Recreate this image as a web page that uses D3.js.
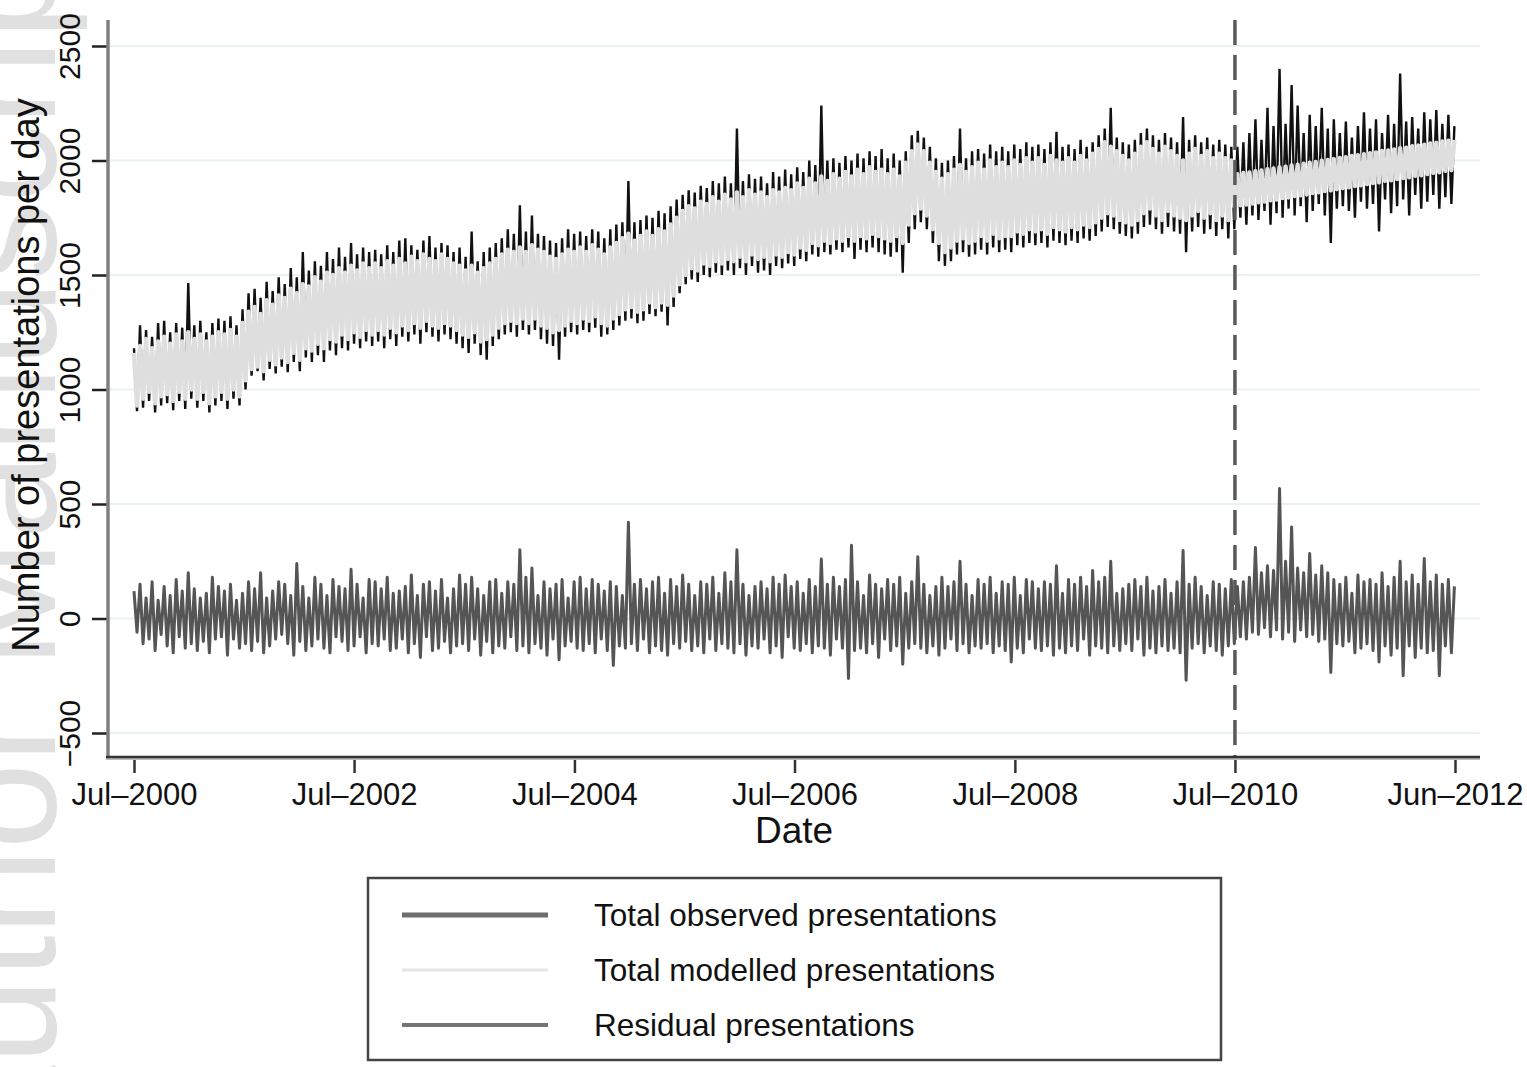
<!DOCTYPE html>
<html>
<head>
<meta charset="utf-8">
<script src="https://cdn.jsdelivr.net/npm/d3@7"></script>
<style>
  body { margin: 0; background: #fff; }
  svg text { font-family: "Liberation Sans", Arial, Helvetica, sans-serif; }
</style>
</head>
<body>
<div id="chart"></div>
<script>
// one reading every 10 days from Jul 2000, alternately the high and the low of the daily swing
var startDate = new Date(2000, 6, 1), stepDays = 10;

var observed = [
  1180, 905, 1280, 920, 1260, 950, 1230, 900, 1290, 930,
  1300, 940, 1250, 910, 1290, 950, 1270, 915, 1465, 960,
  1280, 920, 1300, 950, 1250, 900, 1290, 930, 1310, 950,
  1300, 915, 1320, 960, 1280, 930, 1350, 1000, 1420, 1060,
  1440, 1080, 1400, 1040, 1470, 1090, 1430, 1070, 1490, 1100,
  1460, 1075, 1530, 1120, 1490, 1080, 1600, 1140, 1520, 1120,
  1560, 1150, 1540, 1120, 1600, 1170, 1570, 1150, 1620, 1180,
  1580, 1170, 1640, 1200, 1590, 1180, 1620, 1210, 1600, 1190,
  1610, 1210, 1590, 1180, 1630, 1220, 1600, 1190, 1650, 1230,
  1660, 1210, 1630, 1240, 1610, 1200, 1650, 1250, 1670, 1230,
  1620, 1210, 1640, 1240, 1630, 1220, 1600, 1200, 1620, 1180,
  1580, 1160, 1690, 1200, 1560, 1150, 1600, 1130, 1620, 1190,
  1640, 1220, 1660, 1240, 1700, 1250, 1680, 1230, 1805, 1260,
  1690, 1240, 1760, 1260, 1680, 1220, 1670, 1200, 1650, 1190,
  1640, 1130, 1660, 1230, 1700, 1250, 1680, 1240, 1690, 1260,
  1670, 1250, 1700, 1270, 1690, 1230, 1660, 1240, 1700, 1260,
  1720, 1280, 1730, 1300, 1910, 1310, 1730, 1290, 1740, 1300,
  1760, 1330, 1750, 1320, 1780, 1340, 1770, 1280, 1800, 1360,
  1830, 1420, 1850, 1460, 1870, 1480, 1860, 1470, 1890, 1500,
  1880, 1490, 1910, 1510, 1900, 1500, 1930, 1520, 1900, 1500,
  2140, 1530, 1910, 1500, 1940, 1540, 1920, 1510, 1930, 1520,
  1900, 1500, 1950, 1540, 1930, 1530, 1960, 1550, 1940, 1540,
  1970, 1570, 1950, 1560, 2000, 1590, 1980, 1580, 2240, 1600,
  2000, 1590, 2010, 1610, 1990, 1600, 2020, 1620, 2000, 1570,
  2030, 1610, 2010, 1600, 2040, 1620, 2020, 1600, 2050, 1590,
  2010, 1580, 2030, 1600, 2000, 1510, 2040, 1640, 2110, 1700,
  2130, 1730, 2100, 1700, 2060, 1640, 2010, 1560, 1990, 1540,
  2000, 1560, 2020, 1590, 2140, 1600, 2010, 1580, 2040, 1590,
  2050, 1610, 2030, 1590, 2070, 1620, 2040, 1600, 2060, 1610,
  2040, 1600, 2070, 1630, 2050, 1620, 2080, 1640, 2060, 1630,
  2070, 1640, 2050, 1620, 2080, 1650, 2125, 1640, 2060, 1630,
  2070, 1650, 2050, 1640, 2090, 1660, 2060, 1650, 2080, 1670,
  2110, 1690, 2140, 1710, 2230, 1700, 2100, 1680, 2080, 1670,
  2070, 1660, 2090, 1680, 2120, 1710, 2140, 1720, 2110, 1700,
  2090, 1680, 2120, 1710, 2100, 1690, 2080, 1680, 2190, 1600,
  2090, 1690, 2110, 1710, 2080, 1680, 2100, 1700, 2070, 1670,
  2090, 1700, 2070, 1660, 2060, 1700, 2060, 1750, 2080, 1720,
  2120, 1760, 2180, 1740, 2090, 1780, 2230, 1720, 2150, 1770,
  2400, 1750, 2160, 1790, 2330, 1760, 2240, 1800, 2120, 1730,
  2200, 1780, 2150, 1810, 2230, 1760, 2140, 1640, 2180, 1790,
  2120, 1800, 2170, 1780, 2100, 1750, 2150, 1820, 2210, 1790,
  2140, 1810, 2180, 1690, 2120, 1830, 2200, 1770, 2160, 1800,
  2380, 1830, 2170, 1760, 2190, 1850, 2140, 1790, 2210, 1820,
  2180, 1850, 2220, 1790, 2160, 1840, 2200, 1810, 2150
];

var modelled = [
  1160, 930, 1190, 960, 1220, 990, 1180, 940, 1210, 970,
  1230, 980, 1200, 950, 1240, 990, 1210, 960, 1250, 1000,
  1220, 960, 1240, 990, 1210, 940, 1230, 970, 1250, 990,
  1240, 960, 1260, 1000, 1230, 970, 1290, 1040, 1340, 1090,
  1360, 1100, 1330, 1080, 1390, 1130, 1370, 1110, 1410, 1140,
  1400, 1120, 1440, 1160, 1420, 1130, 1460, 1180, 1450, 1170,
  1490, 1200, 1470, 1180, 1510, 1220, 1500, 1210, 1530, 1240,
  1510, 1220, 1540, 1250, 1520, 1230, 1550, 1260, 1530, 1240,
  1550, 1260, 1530, 1240, 1560, 1270, 1540, 1250, 1570, 1280,
  1550, 1260, 1580, 1290, 1560, 1270, 1590, 1300, 1570, 1280,
  1560, 1270, 1590, 1290, 1570, 1280, 1550, 1260, 1540, 1240,
  1520, 1230, 1540, 1250, 1510, 1210, 1530, 1220, 1550, 1240,
  1570, 1270, 1590, 1290, 1610, 1300, 1600, 1290, 1620, 1310,
  1600, 1290, 1630, 1310, 1610, 1280, 1600, 1270, 1580, 1250,
  1570, 1260, 1590, 1280, 1610, 1300, 1600, 1290, 1620, 1310,
  1600, 1300, 1630, 1320, 1610, 1290, 1590, 1280, 1620, 1310,
  1640, 1330, 1660, 1350, 1680, 1360, 1650, 1340, 1670, 1350,
  1690, 1380, 1670, 1360, 1700, 1380, 1690, 1370, 1720, 1410,
  1750, 1460, 1780, 1500, 1800, 1530, 1790, 1520, 1820, 1550,
  1810, 1540, 1840, 1560, 1820, 1550, 1850, 1570, 1830, 1560,
  1860, 1580, 1840, 1560, 1870, 1590, 1850, 1570, 1860, 1580,
  1840, 1560, 1870, 1590, 1860, 1580, 1880, 1600, 1870, 1590,
  1900, 1620, 1880, 1610, 1920, 1640, 1900, 1630, 1930, 1650,
  1910, 1640, 1940, 1660, 1920, 1650, 1950, 1670, 1930, 1650,
  1960, 1670, 1940, 1660, 1970, 1680, 1950, 1670, 1960, 1660,
  1940, 1650, 1960, 1670, 1930, 1640, 1990, 1720, 2040, 1770,
  2070, 1790, 2040, 1760, 1990, 1700, 1950, 1640, 1920, 1600,
  1940, 1620, 1960, 1650, 1980, 1660, 1950, 1640, 1970, 1650,
  1990, 1670, 1960, 1650, 2000, 1680, 1970, 1660, 1990, 1670,
  1970, 1670, 2000, 1690, 1980, 1680, 2010, 1700, 1990, 1690,
  2010, 1700, 1980, 1680, 2020, 1710, 2000, 1700, 1990, 1690,
  2010, 1710, 1990, 1700, 2020, 1720, 2000, 1710, 2030, 1730,
  2050, 1750, 2080, 1770, 2060, 1760, 2040, 1740, 2020, 1730,
  2000, 1720, 2030, 1740, 2060, 1770, 2080, 1790, 2050, 1760,
  2030, 1740, 2060, 1780, 2040, 1760, 2020, 1750, 2000, 1740,
  2030, 1760, 2050, 1780, 2020, 1750, 2040, 1770, 2010, 1740,
  2030, 1760, 2010, 1740, 2000, 1800, 1940, 1805, 1945, 1808,
  1948, 1812, 1953, 1818, 1956, 1821, 1962, 1826, 1965, 1830,
  1970, 1836, 1973, 1839, 1978, 1845, 1981, 1848, 1986, 1852,
  1990, 1858, 1993, 1861, 1999, 1867, 2002, 1870, 2006, 1875,
  2011, 1880, 2014, 1883, 2020, 1889, 2023, 1892, 2027, 1897,
  2032, 1902, 2035, 1905, 2041, 1911, 2044, 1914, 2048, 1919,
  2053, 1924, 2056, 1927, 2062, 1933, 2065, 1936, 2069, 1941,
  2074, 1946, 2077, 1949, 2083, 1955, 2086, 1958, 2090
];

var residual = [
  120, -60, 150, -110, 90, -90, 160, -140, 80, -70,
  140, -120, 100, -150, 170, -80, 120, -130, 200, -110,
  130, -140, 90, -100, 110, -150, 180, -90, 140, -80,
  120, -160, 150, -90, 80, -130, 110, -110, 160, -140,
  130, -100, 200, -150, 90, -120, 120, -90, 160, -70,
  150, -110, 100, -160, 240, -100, 140, -140, 90, -120,
  180, -90, 150, -130, 100, -150, 170, -80, 140, -100,
  130, -140, 215, -120, 150, -80, 90, -150, 170, -110,
  160, -120, 130, -90, 180, -140, 110, -130, 120, -90,
  140, -150, 190, -110, 100, -170, 150, -80, 160, -140,
  120, -130, 170, -100, 90, -150, 130, -120, 190, -110,
  150, -140, 180, -90, 130, -160, 100, -100, 160, -150,
  170, -120, 110, -130, 160, -80, 150, -140, 300, -120,
  180, -150, 220, -110, 100, -130, 160, -160, 130, -90,
  150, -180, 170, -120, 90, -100, 160, -130, 180, -140,
  130, -110, 170, -150, 150, -90, 120, -140, 160, -205,
  140, -120, 100, -130, 420, -110, 150, -140, 170, -90,
  130, -150, 160, -120, 180, -140, 110, -160, 170, -110,
  140, -130, 190, -100, 150, -140, 100, -120, 160, -150,
  150, -90, 180, -140, 110, -110, 200, -130, 160, -150,
  300, -110, 150, -160, 100, -120, 140, -130, 160, -90,
  130, -150, 180, -120, 150, -170, 190, -80, 140, -130,
  160, -140, 110, -110, 170, -150, 140, -120, 260, -130,
  150, -160, 180, -90, 140, -130, 170, -262, 320, -140,
  160, -130, 100, -150, 190, -110, 150, -170, 130, -90,
  170, -140, 150, -120, 180, -200, 110, -130, 160, -110,
  270, -130, 150, -150, 100, -120, 140, -160, 180, -130,
  140, -90, 160, -140, 250, -110, 150, -150, 100, -120,
  170, -130, 150, -110, 180, -150, 110, -120, 160, -140,
  150, -190, 180, -130, 100, -150, 170, -90, 160, -130,
  130, -140, 160, -120, 150, -160, 230, -130, 110, -150,
  170, -120, 150, -140, 180, -90, 140, -160, 210, -120,
  160, -130, 180, -150, 250, -120, 110, -140, 130, -110,
  150, -140, 170, -90, 140, -160, 180, -130, 120, -150,
  140, -120, 170, -140, 110, -130, 160, -150, 297, -270,
  150, -130, 180, -110, 140, -150, 100, -120, 160, -140,
  150, -160, 130, -120, 170, -110, 140, -80, 160, -90,
  180, -60, 310, -70, 200, -40, 230, -80, 210, -50,
  568, -90, 250, -60, 400, -100, 220, -50, 200, -80,
  284, -70, 190, -100, 230, -90, 200, -236, 170, -110,
  150, -120, 180, -100, 110, -150, 190, -130, 160, -110,
  170, -140, 150, -190, 200, -120, 140, -160, 180, -130,
  250, -250, 160, -120, 190, -170, 150, -130, 262, -150,
  160, -140, 190, -250, 150, -120, 170, -150, 140
];

var xTickDates = [new Date(2000, 6, 1), new Date(2002, 6, 1), new Date(2004, 6, 1),
                  new Date(2006, 6, 1), new Date(2008, 6, 1), new Date(2010, 6, 1), new Date(2012, 5, 30)];
var xTickLabels = ["Jul\u20132000", "Jul\u20132002", "Jul\u20132004", "Jul\u20132006",
                   "Jul\u20132008", "Jul\u20132010", "Jun\u20132012"];
var yTicks = [-500, 0, 500, 1000, 1500, 2000, 2500];
var forecastStart = new Date(2010, 6, 1);
var legendLabels = ["Total observed presentations", "Total modelled presentations", "Residual presentations"];

var W = 1527, H = 1067;
var plot = {left: 108, right: 1480, top: 20, bottom: 757};

var svg = d3.select("#chart")
  .append("svg")
    .attr("width", W)
    .attr("height", H);

svg.append("rect").attr("width", W).attr("height", H).attr("fill", "#fff");

// faint watermark on the left edge
svg.append("text")
  .attr("transform", "translate(55,1168) rotate(-90)")
  .attr("font-size", 155)
  .attr("fill", "#e0e0e0")
  .text("Author Manuscript");

var x = d3.scaleTime()
    .domain([new Date(2000, 6, 1), new Date(2012, 5, 30)])
    .range([134, 1455]);

var y = d3.scaleLinear()
    .domain([-500, 2500])
    .range([733, 46]);

function dateAt(i) { return d3.timeDay.offset(startDate, i * stepDays); }

// gridlines
svg.append("g")
  .selectAll("line")
  .data(yTicks)
  .enter()
  .append("line")
    .attr("x1", plot.left + 2)
    .attr("x2", plot.right)
    .attr("y1", function(d) { return y(d); })
    .attr("y2", function(d) { return y(d); })
    .attr("stroke", "#eaf1f2")
    .attr("stroke-width", 2);

var line = d3.line()
    .x(function(d, i) { return x(dateAt(i)); })
    .y(function(d) { return y(d); });

svg.append("path")
  .datum(observed)
  .attr("d", line)
  .attr("fill", "none")
  .attr("stroke", "#111")
  .attr("stroke-width", 2.4);

svg.append("path")
  .datum(modelled)
  .attr("d", line)
  .attr("fill", "none")
  .attr("stroke", "#dedede")
  .attr("stroke-width", 4.5)
  .attr("stroke-linejoin", "round");

svg.append("path")
  .datum(residual)
  .attr("d", line)
  .attr("fill", "none")
  .attr("stroke", "#555")
  .attr("stroke-width", 3)
  .attr("stroke-linejoin", "round");

// dashed line where the forecast starts
svg.append("line")
  .attr("x1", x(forecastStart))
  .attr("x2", x(forecastStart))
  .attr("y1", plot.top)
  .attr("y2", plot.bottom)
  .attr("stroke", "#5a5a5a")
  .attr("stroke-width", 3.5)
  .attr("stroke-dasharray", "25,10");

// axes
var yAxis = svg.append("g")
  .attr("transform", "translate(" + plot.left + ",0)")
  .call(d3.axisLeft(y).tickValues(yTicks).tickSize(16).tickSizeOuter(0).tickFormat(d3.format("d")));
yAxis.select(".domain").remove();
yAxis.selectAll(".tick line").attr("stroke", "#222").attr("stroke-width", 2.5);
yAxis.selectAll(".tick text")
  .attr("transform", "rotate(-90)")
  .attr("x", 0)
  .attr("y", -28)
  .attr("dy", 0)
  .attr("text-anchor", "middle")
  .attr("fill", "#111")
  .style("font-size", "30px");

var xAxis = svg.append("g")
  .attr("transform", "translate(0," + plot.bottom + ")")
  .call(d3.axisBottom(x).tickValues(xTickDates).tickSize(16).tickPadding(10).tickSizeOuter(0)
          .tickFormat(function(d, i) { return xTickLabels[i]; }));
xAxis.select(".domain").remove();
xAxis.selectAll(".tick line").attr("stroke", "#333").attr("stroke-width", 2.5);
xAxis.selectAll(".tick text").attr("fill", "#111").style("font-size", "31px");

svg.append("line")
  .attr("x1", plot.left).attr("x2", plot.left)
  .attr("y1", plot.top).attr("y2", plot.bottom)
  .attr("stroke", "#808080").attr("stroke-width", 3.5);
svg.append("line")
  .attr("x1", plot.left - 2).attr("x2", plot.right)
  .attr("y1", plot.bottom + 1.5).attr("y2", plot.bottom + 1.5)
  .attr("stroke", "#bbb").attr("stroke-width", 3);
svg.append("line")
  .attr("x1", plot.left - 2).attr("x2", plot.right)
  .attr("y1", plot.bottom).attr("y2", plot.bottom)
  .attr("stroke", "#333").attr("stroke-width", 2.5);

// axis titles
svg.append("text")
  .attr("x", 794)
  .attr("y", 843)
  .attr("text-anchor", "middle")
  .attr("font-size", 37)
  .attr("fill", "#111")
  .text("Date");

svg.append("text")
  .attr("transform", "rotate(-90)")
  .attr("x", -375)
  .attr("y", 39)
  .attr("text-anchor", "middle")
  .attr("font-size", 38)
  .attr("fill", "#111")
  .text("Number of presentations per day");

// legend
var legend = svg.append("g");
legend.append("rect")
  .attr("x", 368).attr("y", 878)
  .attr("width", 853).attr("height", 182)
  .attr("fill", "#fff")
  .attr("stroke", "#444")
  .attr("stroke-width", 2.5);

var legendColors = ["#6e6e6e", "#e6e6e6", "#747474"];
var legendWidths = [5, 3, 4];
var rows = legend.selectAll(".row")
  .data(legendLabels)
  .enter()
  .append("g")
    .attr("transform", function(d, i) { return "translate(0," + (915 + i * 55) + ")"; });
rows.append("line")
  .attr("x1", 402).attr("x2", 548)
  .attr("stroke", function(d, i) { return legendColors[i]; })
  .attr("stroke-width", function(d, i) { return legendWidths[i]; });
rows.append("text")
  .attr("x", 594)
  .attr("y", 11)
  .attr("font-size", 31.5)
  .attr("fill", "#111")
  .text(function(d) { return d; });
</script>
</body>
</html>
